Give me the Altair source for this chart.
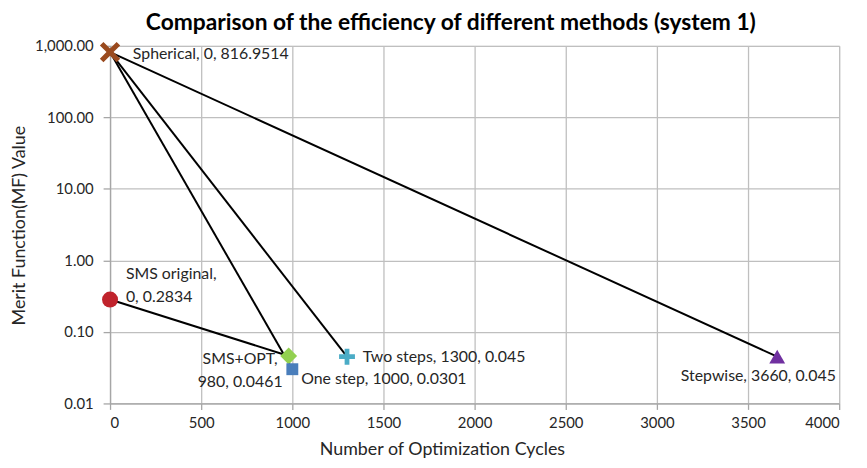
import altair as alt
import pandas as pd

# Data
names = ["Spherical", "SMS original", "SMS+OPT", "One step", "Two steps", "Stepwise"]
cycles = [0, 0, 980, 1000, 1300, 3660]
mf = [816.9514, 0.2834, 0.0461, 0.0301, 0.045, 0.045]
XPATH = "M-1,-0.65L-0.65,-1L0,-0.35L0.65,-1L1,-0.65L0.35,0L1,0.65L0.65,1L0,0.35L-0.65,1L-1,0.65L-0.35,0Z"
PLUS = "M-0.3,-1H0.3V-0.3H1V0.3H0.3V1H-0.3V0.3H-1V-0.3H-0.3Z"
shapes = [XPATH, "circle", "diamond", "square", PLUS, "triangle-up"]
colors = ["#9A4A1E", "#C0232C", "#92D050", "#4A7EBB", "#4BACC6", "#7030A0"]
sizes = [420, 260, 290, 144, 256, 256]

# connecting segments (from, to)
segments = [("Spherical", "Stepwise"), ("Spherical", "Two steps"),
            ("Spherical", "One step"), ("SMS original", "SMS+OPT")]

pts = pd.DataFrame({"name": names, "x": cycles, "y": mf})
lookup = {n: (x, y) for n, x, y in zip(names, cycles, mf)}
rows = []
for i, (a, b) in enumerate(segments):
    for k, n in enumerate((a, b)):
        rows.append({"seg": i, "order": k, "x": lookup[n][0], "y": lookup[n][1]})
segdf = pd.DataFrame(rows)

FONT = "Lato"
TXT = "#262626"

xscale = alt.Scale(domain=[0, 4000], nice=False)
yscale = alt.Scale(type="log", domain=[0.01, 1000], nice=False)

xax = alt.Axis(values=list(range(0, 4001, 500)), format="d", title="Number of Optimization Cycles",
               labelFont=FONT, labelFontSize=15, labelColor=TXT, labelPadding=6,
               titleFont=FONT, titleFontSize=18, titleFontWeight="normal", titleColor=TXT,
               titleX=335, titleY=47, titleBaseline="middle",
               grid=True, gridColor="#BFBFBF", gridWidth=1.3,
               domainColor="#A6A6A6", domainWidth=1.3, tickColor="#A6A6A6", tickSize=6, tickWidth=1.3)
yax = alt.Axis(values=[0.01, 0.1, 1, 10, 100, 1000], format=",.2f", title="Merit Function(MF) Value",
               labelFont=FONT, labelFontSize=15, labelColor=TXT, labelPadding=10,
               titleFont=FONT, titleFontSize=18, titleFontWeight="normal", titleColor=TXT,
               titleX=-91, titleY=181, titleBaseline="middle",
               grid=True, gridColor="#BFBFBF", gridWidth=1.3,
               domainColor="#A6A6A6", domainWidth=1.3, tickColor="#A6A6A6", tickSize=7, tickWidth=1.3)

lines = alt.Chart(segdf).mark_line(color="black", strokeWidth=2).encode(
    x=alt.X("x:Q", scale=xscale, axis=xax),
    y=alt.Y("y:Q", scale=yscale, axis=yax),
    detail="seg:N", order="order:Q")

layers = [lines]
for i, n in enumerate(names):
    d = pts[pts.name == n]
    layers.append(alt.Chart(d).mark_point(shape=shapes[i], filled=True, color=colors[i], opacity=1,
                                          size=sizes[i], strokeWidth=0).encode(
        x=alt.X("x:Q", scale=xscale), y=alt.Y("y:Q", scale=yscale)))

label_specs = [
    ("Spherical", "Spherical, 0, 816.9514", "left", 23, 2),
    ("SMS original", ["SMS original,", "0, 0.2834"], "left", 16, -26),
    ("SMS+OPT", ["SMS+OPT,", "980, 0.0461"], "center", -49, 3),
    ("One step", "One step, 1000, 0.0301", "left", 9, 10),
    ("Two steps", "Two steps, 1300, 0.045", "left", 16, 0),
    ("Stepwise", "Stepwise, 3660, 0.045", "center", -19, 20),
]
for n, txt, al, dx, dy in label_specs:
    d = pts[pts.name == n].copy()
    d["label"] = [txt]
    layers.append(alt.Chart(d).mark_text(align=al, baseline="middle", dx=dx, dy=dy, font=FONT,
                                         fontSize=16, color=TXT, lineHeight=23).encode(
        x=alt.X("x:Q", scale=xscale), y=alt.Y("y:Q", scale=yscale), text="label"))

chart = alt.layer(*layers).properties(
    width=736, height=361,
    title=alt.Title("Comparison of the efficiency of different methods (system 1)",
                    font=FONT, fontSize=23, fontWeight="bold", color="black",
                    anchor="middle", dx=-24, offset=4),
    autosize=alt.AutoSizeParams(type="none"),
    padding={"left": 103, "top": 36, "right": 20, "bottom": 63},
).configure_view(stroke=None).configure(background="white")

chart.save("out.html", embed_options={"renderer": "svg", "actions": False})
